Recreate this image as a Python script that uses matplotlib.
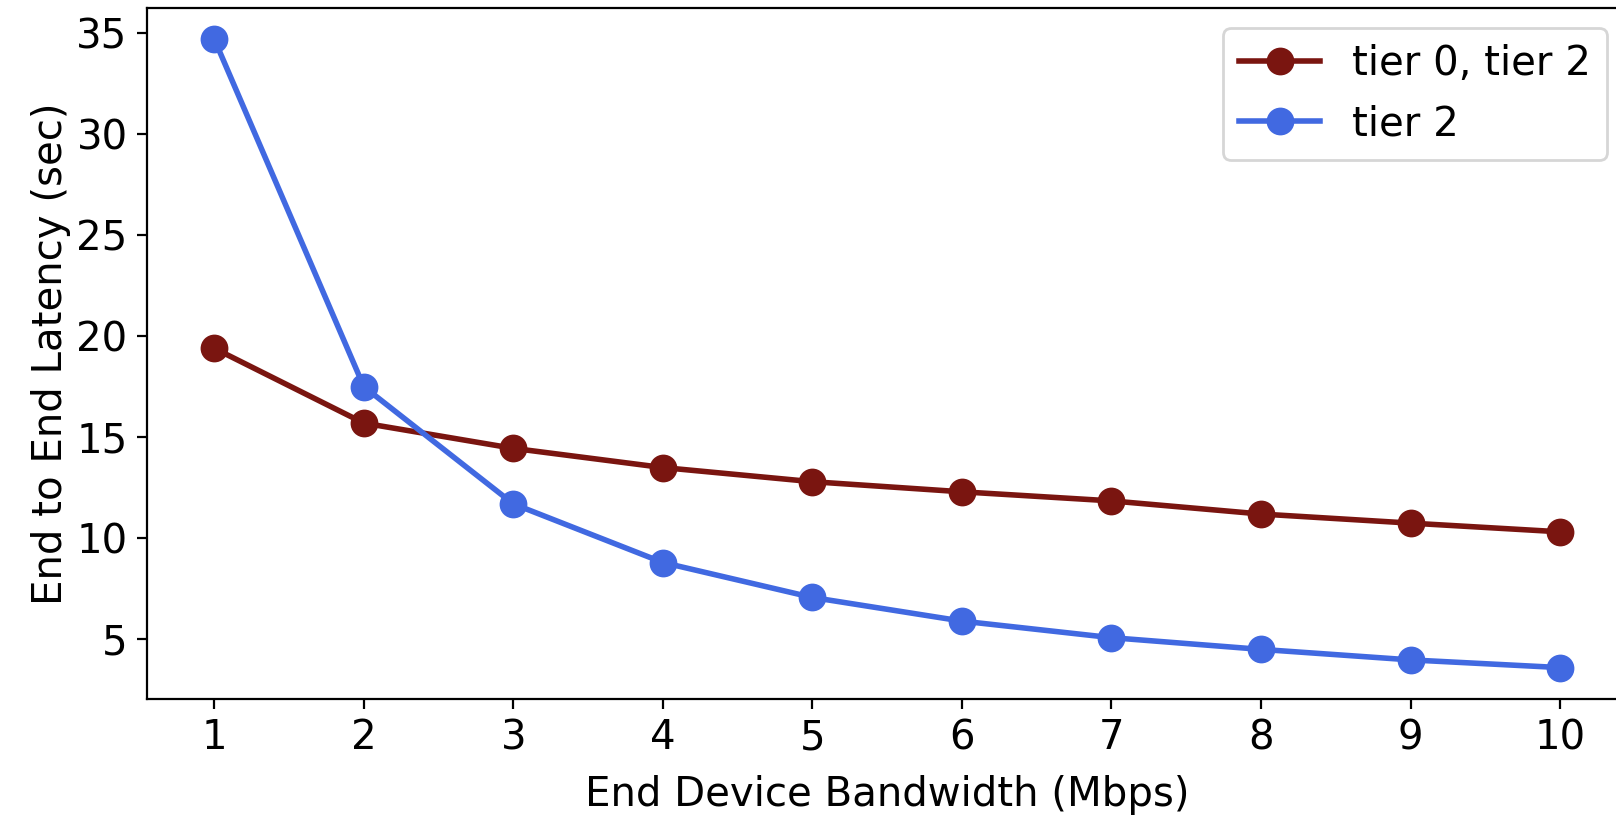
import numpy as np
import matplotlib
matplotlib.use('Agg')
import matplotlib.pyplot as plt

# bandwidth values (Mbps)
bandwidth = [1, 2, 3, 4, 5, 6, 7, 8, 9, 10]
# end to end latency (sec)
lat_tier02 = [19.4, 15.7, 14.45, 13.5, 12.8, 12.3, 11.85, 11.2, 10.75, 10.32]
lat_tier2 = [34.7, 17.5, 11.7, 8.8, 7.07, 5.9, 5.08, 4.5, 3.98, 3.6]

plt.rcParams['font.size'] = 14.5

fig = plt.figure(figsize=(8.08, 4.08), dpi=200)
ax = fig.add_axes([0.091, 0.1434, 0.916, 0.847])

ax.plot(bandwidth, lat_tier02, '-o', color='#7a1510', lw=2, ms=9, label='tier 0, tier 2')
ax.plot(bandwidth, lat_tier2, '-o', color='royalblue', lw=2, ms=9, label='tier 2')

ax.set_xticks(bandwidth)
ax.set_xlabel('End Device Bandwidth (Mbps)', labelpad=6)
ax.set_ylabel('End to End Latency (sec)', labelpad=2)
ax.legend(loc='upper right', bbox_to_anchor=(1.0, 1.0))

fig.savefig('out.png', dpi=200)
